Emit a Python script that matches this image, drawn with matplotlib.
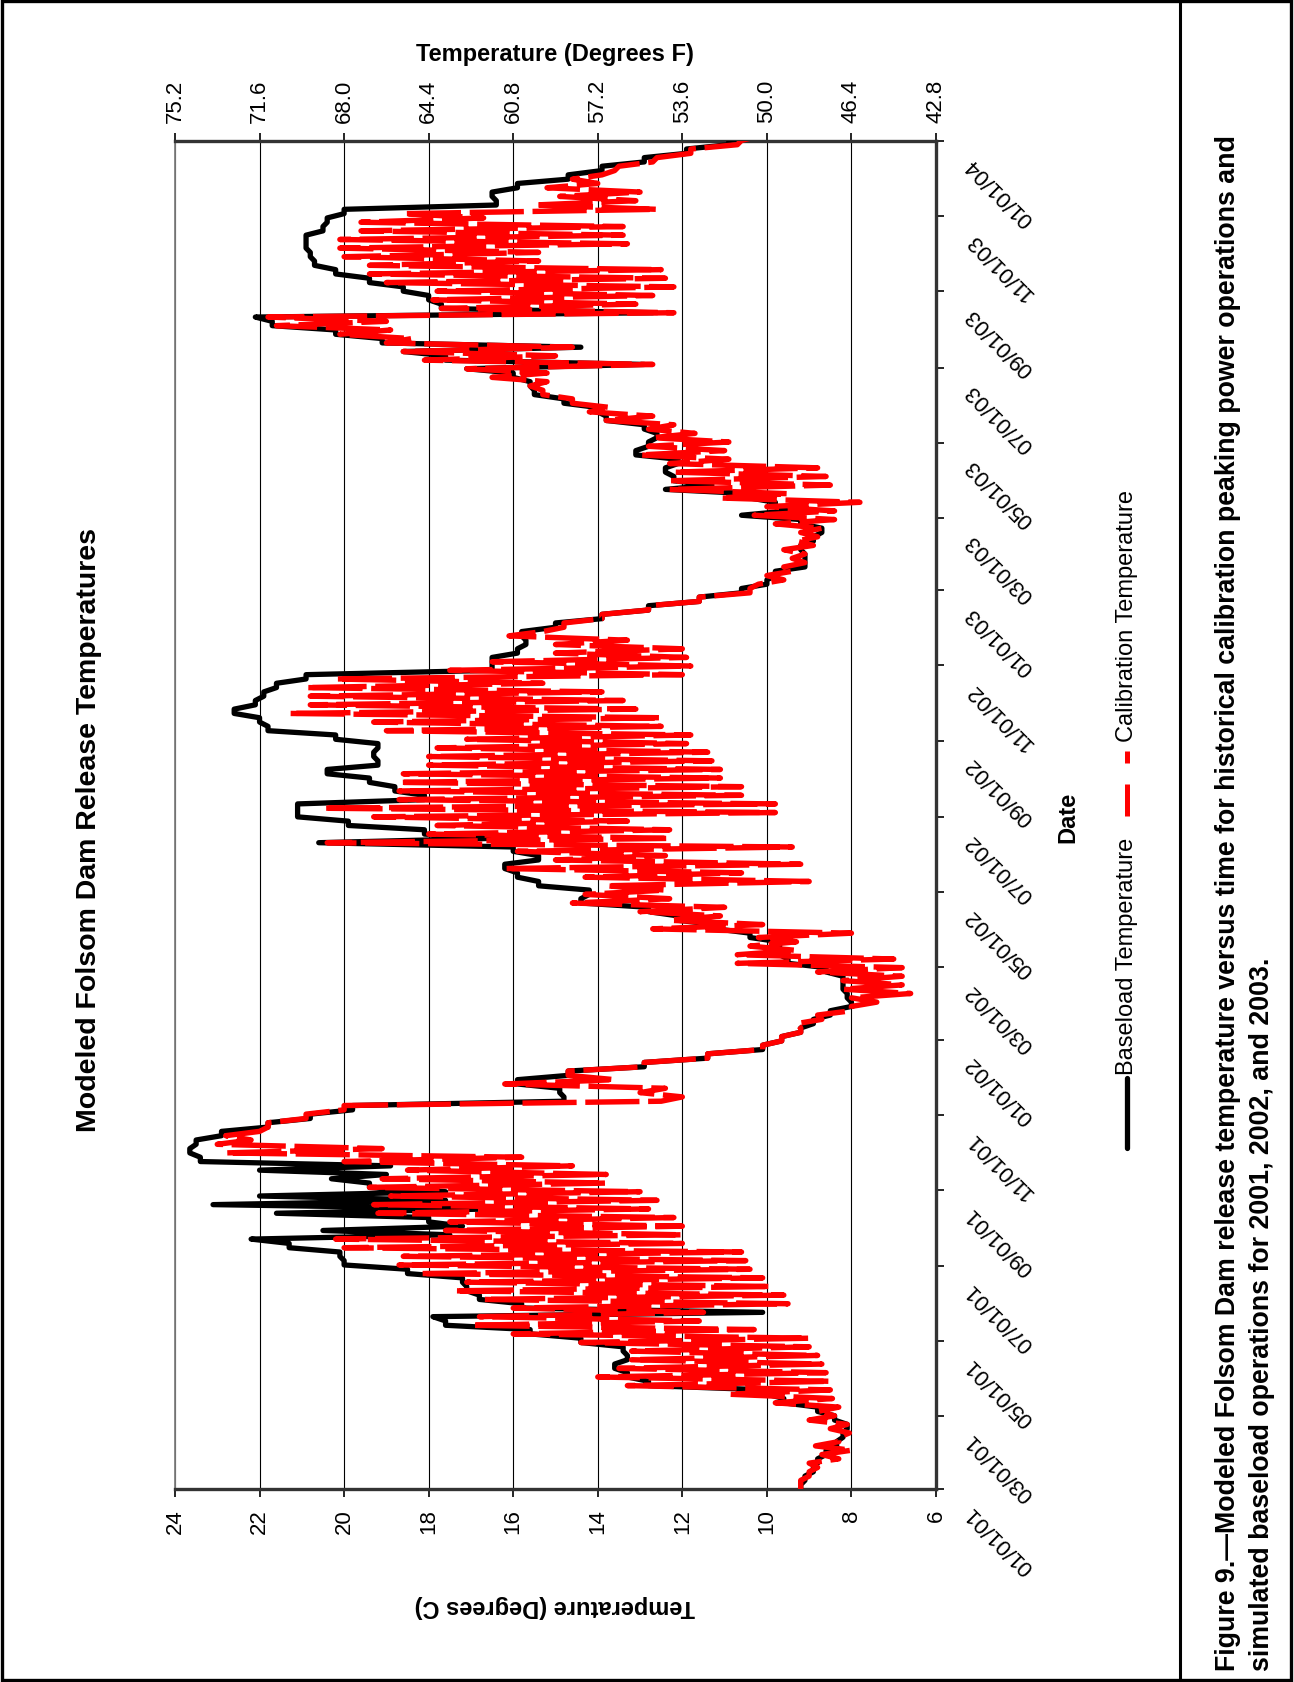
import numpy as np
import matplotlib
matplotlib.use("Agg")
import matplotlib.pyplot as plt
from matplotlib.lines import Line2D
from matplotlib.patches import Rectangle
from matplotlib.transforms import blended_transform_factory, offset_copy

plt.rcParams['font.family'] = ['Liberation Sans', 'DejaVu Sans']

# weekly readings starting 01/01/2001 (week i -> day 7*i)
start_date = '2001-01-01'
end_date = '2004-01-01'

# baseload temperature (deg C), upper reading of each week
base_hi = [9.2, 9.1, 8.9, 8.8, 8.6, 8.35, 8.2, 8.1, 8.4, 8.8,
           9.6, 10.0, 12.8, 13.3, 13.6, 13.3, 13.4, 14.4, 15.6, 17.6,
           17.9, 15.8, 16.8, 17.1, 17.2, 18.5, 20.0, 20.1, 21.3, 22.2,
           20.5, 18.0, 21.6, 23.1, 22.0, 19.4, 20.3, 22.0, 23.4, 23.65,
           23.5, 22.9, 21.8, 20.8, 19.8, 14.8, 14.9, 15.9, 14.7, 12.9,
           11.4, 10.1, 9.65, 9.2, 8.9, 8.5, 8.0, 8.1, 8.2, 8.2,
           8.6, 9.5, 9.7, 9.7, 10.4, 11.2, 12.1, 12.8, 14.4, 14.2,
           15.4, 15.9, 16.2, 15.4, 16.0, 20.6, 18.1, 19.9, 21.1, 21.1,
           18.1, 18.8, 19.4, 20.4, 19.2, 19.3, 19.2, 20.2, 21.8, 22.0,
           22.6, 22.1, 21.9, 21.6, 20.9, 16.5, 16.5, 15.9, 15.7, 15.8,
           15.0, 13.9, 12.8, 11.6, 10.6, 10.0, 9.8, 9.1, 9.1, 9.2,
           8.9, 8.7, 9.2, 10.6, 9.8, 10.4, 12.4, 12.2, 12.4, 12.1,
           13.1, 12.8, 12.6, 12.9, 13.8, 14.0, 14.8, 15.5, 15.6, 16.0,
           17.1, 17.6, 18.6, 19.1, 20.2, 21.7, 22.1, 17.7, 18.0, 18.6,
           19.4, 20.2, 20.7, 20.8, 20.9, 20.9, 20.5, 20.4, 20.0, 16.4,
           16.5, 15.9, 14.7, 13.9, 12.9, 11.9, 10.9, 10.2]

# weeks where the baseload line swings down to a lower value
base_swing = {20: 10.1, 29: 17.5, 30: 17.2, 32: 16.5, 33: 17.6, 34: 17.6,
              36: 19.0, 37: 18.9, 75: 16.5, 113: 9.5, 116: 11.3,
              130: 12.9, 132: 14.4, 136: 12.7}

# calibration temperature (deg C), high and low reading of each week
cal_hi = [9.2, 9.2, 9.0, 9.0, 8.7, 8.85, 8.3, 8.5, 9.0, 8.8,
          9.8, 10.9, 13.3, 14.0, 13.5, 13.2, 13.2, 14.4, 16.0, 17.0,
          16.8, 16.0, 16.7, 17.4, 17.1, 18.2, 18.7, 18.6, 20.0, 20.2,
          17.6, 17.5, 19.2, 19.3, 18.9, 19.4, 19.1, 18.5, 20.0, 22.8,
          23.0, 22.8, 21.8, 20.9, 20.0, 12.5, 13.0, 16.2, 14.7, 12.9,
          11.4, 10.1, 9.65, 9.2, 9.3, 8.8, 8.0, 8.0, 8.2, 8.2,
          8.8, 10.7, 10.7, 10.4, 10.2, 12.7, 12.3, 13.0, 14.6, 14.3,
          13.8, 14.3, 16.2, 15.0, 15.9, 20.4, 18.0, 17.8, 19.3, 20.5,
          18.7, 18.7, 18.7, 18.6, 18.0, 18.0, 17.8, 17.1, 19.0, 19.3,
          21.3, 20.8, 20.8, 20.9, 20.2, 17.5, 16.5, 15.0, 15.0, 16.1,
          14.8, 13.9, 12.8, 11.6, 10.4, 10.2, 10.0, 9.6, 9.4, 9.6,
          9.3, 9.2, 9.8, 10.3, 10.0, 11.1, 12.3, 12.3, 12.2, 12.3,
          13.0, 12.8, 12.7, 12.8, 13.8, 14.2, 14.6, 15.3, 15.6, 16.5,
          17.1, 18.1, 18.6, 19.0, 20.1, 21.6, 21.8, 17.7, 17.9, 17.8,
          19.0, 19.4, 19.4, 20.0, 20.1, 20.1, 19.6, 19.6, 18.6, 15.5,
          14.9, 15.2, 14.6, 13.6, 12.7, 11.8, 10.7, 10.2]

cal_lo = [9.2, 9.0, 8.8, 8.3, 8.0, 8.3, 8.05, 8.1, 8.4, 8.3,
          8.45, 8.5, 8.5, 8.6, 8.7, 8.8, 9.0, 9.0, 10.3, 11.6,
          11.5, 9.5, 9.6, 9.9, 10.1, 10.4, 10.5, 10.6, 12.0, 12.0,
          12.0, 12.2, 12.8, 12.6, 13.0, 13.8, 13.8, 14.6, 15.8, 19.1,
          22.2, 22.0, 21.8, 20.9, 20.0, 12.0, 12.4, 13.6, 14.7, 12.9,
          11.4, 10.1, 9.65, 9.2, 8.7, 8.0, 7.4, 6.6, 6.8, 6.8,
          6.8, 7.0, 9.3, 9.3, 8.0, 10.1, 11.1, 11.0, 12.3, 12.4,
          9.0, 10.6, 9.2, 12.4, 9.4, 12.3, 12.3, 13.3, 9.8, 9.8,
          10.6, 10.6, 11.1, 11.1, 11.3, 11.4, 11.9, 11.8, 12.5, 12.5,
          13.1, 13.4, 13.9, 15.3, 12.0, 11.8, 11.9, 12.0, 13.3, 15.3,
          14.8, 13.9, 12.8, 11.6, 10.4, 9.6, 9.4, 9.1, 9.1, 8.9,
          8.8, 8.7, 8.4, 8.4, 7.8, 9.5, 8.5, 8.6, 8.8, 10.9,
          11.0, 10.9, 11.7, 12.2, 12.7, 13.7, 14.6, 15.3, 15.2, 15.2,
          12.7, 15.0, 14.6, 18.4, 18.9, 19.0, 12.2, 13.1, 12.7, 12.2,
          12.4, 12.5, 15.4, 15.4, 13.3, 13.4, 13.4, 16.7, 12.6, 13.1,
          13.0, 14.0, 13.9, 13.5, 12.6, 11.8, 10.6, 10.2]

date_ticks = ['2001-01-01', '2001-03-01', '2001-05-01', '2001-07-01', '2001-09-01',
              '2001-11-01', '2002-01-01', '2002-03-01', '2002-05-01', '2002-07-01',
              '2002-09-01', '2002-11-01', '2003-01-01', '2003-03-01', '2003-05-01',
              '2003-07-01', '2003-09-01', '2003-11-01', '2004-01-01']
date_labels = ['01/01/01', '03/01/01', '05/01/01', '07/01/01', '09/01/01', '11/01/01',
               '01/01/02', '03/01/02', '05/01/02', '07/01/02', '09/01/02', '11/01/02',
               '01/01/03', '03/01/03', '05/01/03', '07/01/03', '09/01/03', '11/01/03',
               '01/01/04']
temp_c_ticks = [24, 22, 20, 18, 16, 14, 12, 10, 8, 6]
temp_f_labels = ['75.2', '71.6', '68.0', '64.4', '60.8', '57.2', '53.6', '50.0', '46.4', '42.8']

title = 'Modeled Folsom Dam Release Temperatures'
caption1 = ('Figure 9.\u2014Modeled Folsom Dam release temperature versus time for '
            'historical calibration peaking power operations and')
caption2 = 'simulated baseload operations for 2001, 2002, and 2003.'


def zigzag(hi, lo):
    # each week: high reading at day 7i, low reading half a week later
    n = len(hi)
    days = np.empty(2 * n)
    vals = np.empty(2 * n)
    days[0::2] = 7 * np.arange(n)
    days[1::2] = 7 * np.arange(n) + 3.5
    vals[0::2] = hi
    vals[1::2] = lo
    return days, vals


t0 = np.datetime64(start_date)
n_days = int((np.datetime64(end_date) - t0).astype(int))
tick_days = (np.array(date_ticks, dtype='datetime64[D]') - t0).astype(int)

base_lo = list(base_hi)
for k, v in base_swing.items():
    base_lo[k] = v

W, H = 1294, 1683
fig = plt.figure(figsize=(W / 100, H / 100), dpi=100)
ax = fig.add_axes([175 / W, 1 - 1490 / H, (936 - 175) / W, (1490 - 142) / H])

bd, bv = zigzag(base_hi, base_lo)
cd, cv = zigzag(cal_hi, cal_lo)
ax.plot(bv, bd, color='black', lw=3.8, solid_capstyle='round', solid_joinstyle='round', zorder=3)
ax.plot(cv, cd, color='#ff0000', lw=3.9, linestyle=(0, (10, 1.6)),
        dash_capstyle='butt', dash_joinstyle='round', zorder=4)

ax.set_xlim(24, 6)
ax.set_ylim(0, n_days)
ax.set_xticks(temp_c_ticks)
ax.set_xticklabels([str(t) for t in temp_c_ticks], rotation=90)
ax.tick_params(axis='x', direction='out', length=6, width=1.2, labelsize=16, pad=8)
ax.grid(axis='x', color='black', lw=0.8)
ax.set_axisbelow(True)

ax.yaxis.tick_right()
ax.set_yticks(tick_days)
ax.set_yticklabels([])
ax.tick_params(axis='y', direction='out', length=6, width=1.2)

for side in ['top', 'bottom', 'right']:
    ax.spines[side].set_linewidth(2.4)
    ax.spines[side].set_color('#333333')
ax.spines['left'].set_linewidth(1.3)
ax.spines['left'].set_color('#808080')

sec = ax.secondary_xaxis('top')
sec.set_xticks(temp_c_ticks)
sec.set_xticklabels(temp_f_labels, rotation=90)
sec.tick_params(direction='out', length=6, width=1.2, labelsize=16, pad=8)
sec.spines['top'].set_visible(False)

trans = blended_transform_factory(ax.transAxes, ax.transData)
lab_trans = offset_copy(trans, fig=fig, x=64, y=-50, units='dots')
for d, lab in zip(tick_days, date_labels):
    ax.text(1.0, d, lab, transform=lab_trans, rotation=135, ha='center', va='center',
            fontsize=16, clip_on=False)

def fx(x):
    return x / W

def fy(y):
    return 1 - y / H

fig.text(fx(89), fy(830), title, rotation=90, ha='center', va='center',
         fontsize=20.5, fontweight='bold')
fig.text(fx(555), fy(1607), 'Temperature (Degrees C)', rotation=180, ha='center', va='center',
         fontsize=17, fontweight='bold')
fig.text(fx(555), fy(55), 'Temperature (Degrees F)', ha='center', va='center',
         fontsize=17, fontweight='bold')
fig.text(fx(1068), fy(817), 'Date', rotation=90, ha='center', va='center',
         fontsize=17, fontweight='bold')

# legend drawn in page coordinates
fig.add_artist(Line2D([fx(1127), fx(1127)], [fy(1149), fy(1079)], color='black', lw=3.8,
                      solid_capstyle='round', transform=fig.transFigure))
fig.text(fx(1127), fy(1075), 'Baseload Temperature', rotation=90, ha='center', va='bottom',
         fontsize=17)
fig.add_artist(Line2D([fx(1127), fx(1127)], [fy(817), fy(785)], color='#ff0000', lw=3.6,
                      solid_capstyle='butt', transform=fig.transFigure))
fig.add_artist(Line2D([fx(1127), fx(1127)], [fy(764), fy(752)], color='#ff0000', lw=3.6,
                      solid_capstyle='butt', transform=fig.transFigure))
fig.text(fx(1127), fy(742), 'Calibration Temperature', rotation=90, ha='center', va='bottom',
         fontsize=17)

fig.text(fx(1228), fy(1671), caption1, rotation=90, ha='center', va='bottom',
         fontsize=19.3, fontweight='bold')
fig.text(fx(1262), fy(1671), caption2, rotation=90, ha='center', va='bottom',
         fontsize=19.3, fontweight='bold')

# page frame and caption divider
fig.add_artist(Rectangle((fx(2), fy(1681)), (1291 - 2) / W, (1681 - 2) / H, fill=False,
                         edgecolor='black', lw=2.4, transform=fig.transFigure))
fig.add_artist(Line2D([fx(1180), fx(1180)], [0, 1], color='black', lw=2.2,
                      transform=fig.transFigure))

fig.savefig('out.png', dpi=100)
